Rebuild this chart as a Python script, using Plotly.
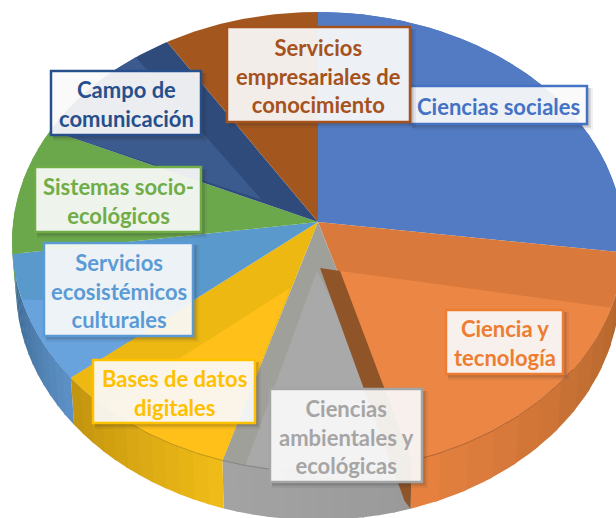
import math
import plotly.graph_objects as go

# ---- data (clockwise from 12 o'clock) ----
categories = ["Ciencias sociales", "Ciencia y tecnología", "Ciencias ambientales y ecológicas",
              "Bases de datos digitales", "Servicios ecosistémicos culturales",
              "Sistemas socio-ecológicos", "Campo de comunicación",
              "Servicios empresariales de conocimiento"]
values = [25.7, 19.3, 10.0, 9.9, 9.2, 8.9, 8.7, 8.2]
label_lines = ["Ciencias sociales", "Ciencia y<br>tecnología", "Ciencias<br>ambientales y<br>ecológicas",
               "Bases de datos<br>digitales", "Servicios<br>ecosistémicos<br>culturales",
               "Sistemas socio-<br>ecológicos", "Campo de<br>comunicación",
               "Servicios<br>empresariales de<br>conocimiento"]
# ---- styling ----
top_dark = ["#527bc3", "#d97a3c", "#a0a09b", "#edb811", "#5a99cc", "#6ba84b", "#2f4b7c", "#a3571f"]
top_light = ["#527bc3", "#ec8645", "#a9a9a9", "#ffc119", "#69a3de", "#6ba84b", "#3b5a8d", "#a3571f"]
wall_from = ["#527bc3", "#b0652c", "#9a9a9a", "#efbb18", "#5c90c4", "#6ba84b", "#2f4b7c", "#a3571f"]
wall_to = ["#527bc3", "#e5803f", "#a3a3a3", "#c4960f", "#3a6690", "#6ba84b", "#2f4b7c", "#a3571f"]
edge = ["#4472c4", "#ed7d31", "#a5a5a5", "#ffc000", "#5b9bd5", "#70ad47", "#264f8c", "#a5521c"]
boxes = [(410, 86, 587, 124), (446, 310, 563, 374), (270, 389, 422, 482), (93, 360, 255, 423),
         (44, 243, 193, 336), (35, 167, 201, 232), (51, 71, 201, 135), (227, 27, 410, 122)]
box_order = [1, 2, 4, 3, 5, 6, 0, 7]
# facet geometry per slice: apex offset x, y, start trim, end trim (degrees); None = no facet
facets = [None, (22, 49, 14, 0), (-1, 49, 0, 4.5), (-28, 66, 0, 9.5), (-128, 82, 0, 11.5),
          None, (-56, -22, 0, 7), None]

APEX = (318, 222)
TOP = (318, 242, 306, 230)
BOT = (318, 288, 302, 232)
FONT = "Lato"


def ell(e, deg):
    a = math.radians(deg)
    return e[0] + e[2] * math.sin(a), e[1] - e[3] * math.cos(a)


def arc(e, a, b, n=40):
    return [ell(e, a + (b - a) * i / n) for i in range(n + 1)]


def mix(c1, c2, f):
    p = [int(c1[i:i + 2], 16) for i in (1, 3, 5)]
    q = [int(c2[i:i + 2], 16) for i in (1, 3, 5)]
    return "rgb(%d,%d,%d)" % tuple(round(p[i] + (q[i] - p[i]) * f) for i in range(3))


fig = go.Figure()


def poly(pts, color):
    fig.add_trace(go.Scatter(x=[p[0] for p in pts] + [pts[0][0]], y=[p[1] for p in pts] + [pts[0][1]],
                             mode="lines", fill="toself", fillcolor=color, line=dict(width=0, color=color),
                             hoverinfo="skip", showlegend=False))


total = sum(values)
starts = []
acc = 0.0
for v in values:
    starts.append(acc / total * 360)
    acc += v
ends = starts[1:] + [360.0]

# side walls
for i in range(len(values)):
    a, b = starts[i], ends[i]
    if b < 90 or a > 275:
        continue
    steps = 12
    for k in range(steps):
        p, q = a + (b - a) * k / steps, a + (b - a) * (k + 1.15) / steps
        q = min(q, b)
        poly(arc(TOP, p, q, 6) + arc(BOT, q, p, 6), mix(wall_from[i], wall_to[i], k / (steps - 1)))

# top surface
for i in range(len(values)):
    poly([APEX] + arc(TOP, starts[i], ends[i]), top_dark[i])

# lighter facets
for i, f in enumerate(facets):
    if f is None:
        continue
    ap = (APEX[0] + f[0], APEX[1] + f[1])
    poly([ap] + arc(TOP, starts[i] + f[2], ends[i] - f[3]), top_light[i])

# exposed inner wall of the second slice
ra = ell(TOP, ends[1])
rb = ell(BOT, ends[1])
poly([(APEX[0] + 2, APEX[1] + 46), (APEX[0] + 22, APEX[1] + 49), ra, rb, (rb[0] - 6, rb[1] - 8)], "#8f5428")

# rim lines on the front
for i in (1, 2, 3):
    pts = arc(TOP, starts[i] + (31 if i == 1 else 0), ends[i] - (9 if i == 3 else 0))
    fig.add_trace(go.Scatter(x=[p[0] for p in pts], y=[p[1] for p in pts], mode="lines",
                             line=dict(width=1, color=mix(top_dark[i], "#000000", 0.3)),
                             opacity=0.7, hoverinfo="skip", showlegend=False))

shapes = []
annotations = []
for i in box_order:
    x0, y0, x1, y1 = boxes[i]
    for g, op in ((5, 0.07), (3, 0.10), (1.5, 0.12)):
        shapes.append(dict(type="rect", x0=x0 + 2, y0=y0 + 2, x1=x1 + g + 1, y1=y1 + g + 1, layer="above",
                           fillcolor="rgba(40,40,40,%s)" % op, line=dict(width=0)))
    shapes.append(dict(type="rect", x0=x0, y0=y0, x1=x1, y1=y1, layer="above",
                       fillcolor="rgba(255,255,255,0.9)", line=dict(color=edge[i], width=2.5)))
    annotations.append(dict(x=(x0 + x1) / 2, y=(y0 + y1) / 2 + 1, text="<b>%s</b>" % label_lines[i],
                            showarrow=False, align="center", xanchor="center", yanchor="middle",
                            font=dict(family=FONT, size=22, color=edge[i])))

fig.update_layout(width=616, height=518, margin=dict(l=0, r=0, t=0, b=0),
                  paper_bgcolor="white", plot_bgcolor="white", showlegend=False,
                  xaxis=dict(range=[0, 616], visible=False, fixedrange=True),
                  yaxis=dict(range=[518, 0], visible=False, fixedrange=True),
                  shapes=shapes, annotations=annotations)
fig.write_html("out.html", config={"displayModeBar": False},
               post_script="document.documentElement.style.overflow='hidden';document.body.style.margin='0';")
